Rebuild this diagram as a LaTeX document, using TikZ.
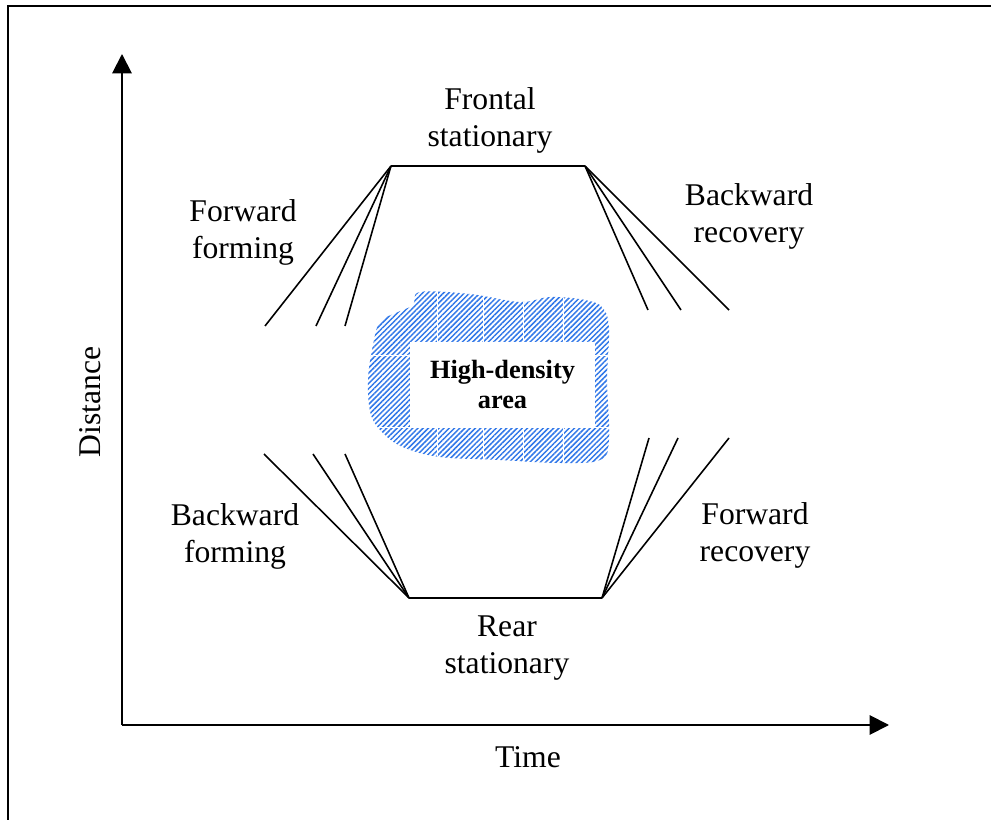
\documentclass[tikz,border=0pt]{standalone}
\usepackage{fontspec}
\setmainfont{Liberation Serif}
\usetikzlibrary{arrows.meta,patterns.meta}
\definecolor{hatchblue}{RGB}{50,120,232}

\begin{document}
\begin{tikzpicture}[x=0.02cm,y=-0.02cm,
    phase/.style={align=center,inner sep=0pt,font=\fontsize{18}{21}\selectfont},
    axis/.style={line width=1.1pt,-{Triangle[length=11pt,width=11pt]}},
    front/.style={line width=0.9pt}]
\useasboundingbox (0,0) rectangle (991,820);
% frame, cut off on the right and at the bottom
\draw[line width=1.2pt] (8,830) -- (8,6) -- (1000,6);

% axes
\coordinate (O) at (122,725);
\coordinate (ytip) at (122,54);
\coordinate (xtip) at (889,725);
\draw[axis] (O) -- (ytip);
\draw[axis] (O) -- (xtip);
\node[phase] (time) at (528,757) {Time};
\node[phase,rotate=90] (dist) at (90,402) {Distance};

% high-density blob
\def\blob{plot[smooth cycle,tension=0.6] coordinates {(420,292) (470,294) (520,302)
  (550,297) (585,300) (603,308) (609,330) (607,380) (609,440) (600,460) (560,463)
  (500,460) (440,457) (405,448) (385,435) (371,415) (368,380) (373,345) (380,322)
  (398,312) (413,305)}}
\fill[pattern={Lines[angle=45,distance=2.1pt,line width=0.85pt]},pattern color=hatchblue] \blob;
\begin{scope}
  \clip \blob;
  \foreach \x in {437,483,523,563} \draw[white,line width=0.5pt] (\x,280) -- (\x,470);
  \foreach \y in {355,427} \draw[white,line width=0.5pt] (360,\y) -- (615,\y);
\end{scope}
\node[fill=white,minimum width=3.7cm,minimum height=1.7cm,align=center,
  font=\bfseries\fontsize{15}{17.5}\selectfont] (hd) at (502.5,384.5) {High-density\\area};

% stationary fronts
\coordinate (fl) at (391,166);
\coordinate (fr) at (585,166);
\coordinate (rl) at (409,598);
\coordinate (rr) at (602,598);
\draw[front] (fl) -- (fr);
\draw[front] (rl) -- (rr);

% forming and recovery fans
\foreach \x [count=\i] in {265,316,345} {
  \coordinate (ff\i) at (\x,326);
  \draw[front] (fl) -- (ff\i);
}
\foreach \x [count=\i] in {648,681,729} {
  \coordinate (br\i) at (\x,310);
  \draw[front] (fr) -- (br\i);
}
\foreach \x [count=\i] in {264,313,345} {
  \coordinate (bf\i) at (\x,454);
  \draw[front] (rl) -- (bf\i);
}
\foreach \x [count=\i] in {649,678,729} {
  \coordinate (fw\i) at (\x,438);
  \draw[front] (rr) -- (fw\i);
}

% labels
\node[phase] (frontal) at (490,120) {Frontal\\stationary};
\node[phase] (rear) at (507,648) {Rear\\stationary};
\node[phase] (fform) at (243,232) {Forward\\forming};
\node[phase] (brec) at (749,216) {Backward\\recovery};
\node[phase] (bform) at (235,536) {Backward\\forming};
\node[phase] (frec) at (755,535) {Forward\\recovery};
\end{tikzpicture}
\end{document}
